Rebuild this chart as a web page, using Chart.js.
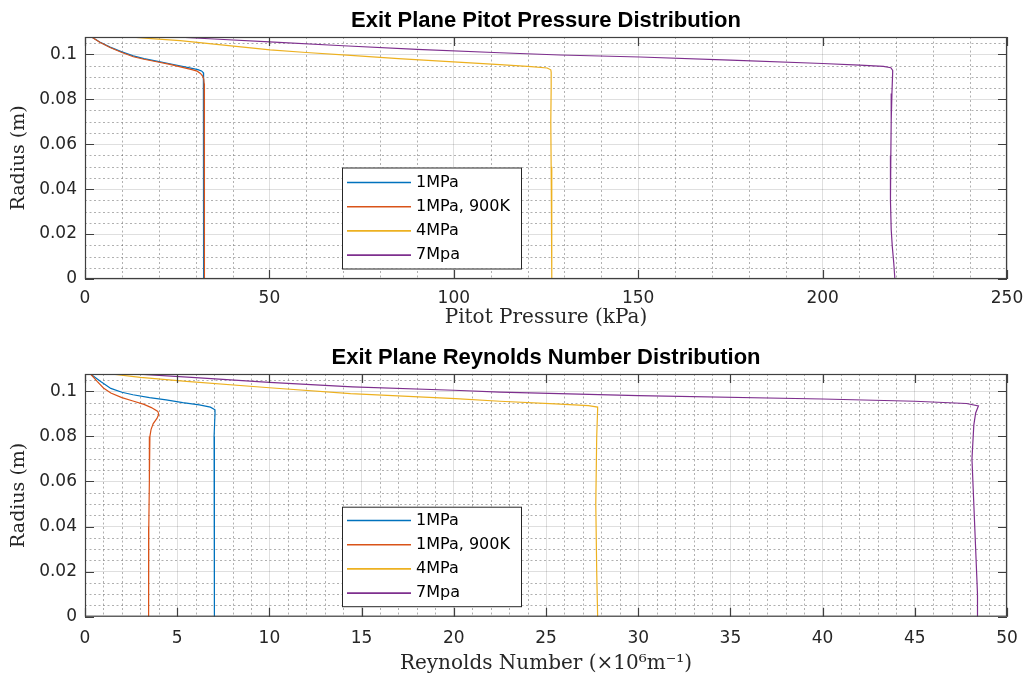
<!DOCTYPE html>
<html>
<head>
<meta charset="utf-8">
<title>Exit Plane Distributions</title>
<script src="https://cdn.jsdelivr.net/npm/chart.js@4.4.1/dist/chart.umd.min.js"></script>
<style>
  html, body { margin: 0; padding: 0; background: #fff; }
  body { width: 1025px; height: 679px; position: relative; overflow: hidden; }
  .panel { position: absolute; left: 0; width: 1025px; }
  #top { top: 0; height: 340px; }
  #bottom { top: 340px; height: 339px; }
</style>
</head>
<body>
<div class="panel" id="top"><canvas id="pitotChart"></canvas></div>
<div class="panel" id="bottom"><canvas id="reynoldsChart"></canvas></div>
<script>
// series names, same for both panels
const seriesLabels = ['1MPa', '1MPa, 900K', '4MPa', '7Mpa'];

// tick values
const radiusTicks = [0, 0.02, 0.04, 0.06, 0.08, 0.1];
const pitotTicks = [0, 50, 100, 150, 200, 250];
const reynoldsTicks = [0, 5, 10, 15, 20, 25, 30, 35, 40, 45, 50];

// top panel: [pitot pressure kPa, radius m]
const pitot1MPa = [[1.8,0.1077],[4.0,0.1055],[6.8,0.1032],[10.0,0.1011],[13.1,0.0993],[16.0,0.0981],[19.4,0.0970],[23.0,0.0958],[26.7,0.0945],[29.0,0.0937],[30.6,0.0932],[31.6,0.0926],[32.1,0.0918],[32.2,0.0905],[32.2,0.088],[32.1,0.080],[32.1,0.060],[32.1,0.040],[32.2,0.020],[32.2,0]];
const pitot1MPa900K = [[1.8,0.1077],[4.0,0.1054],[6.8,0.1030],[10.0,0.1008],[13.1,0.0989],[16.0,0.0978],[19.4,0.0967],[23.0,0.0955],[26.7,0.0941],[29.0,0.0932],[30.4,0.0925],[31.3,0.0915],[31.9,0.0903],[32.2,0.0890],[32.3,0.087],[32.4,0.080],[32.5,0.065],[32.4,0.050],[32.3,0.030],[32.3,0.010],[32.4,0]];
const pitot4MPa = [[12.2,0.1077],[18,0.1070],[25.8,0.1061],[35,0.1045],[50.2,0.1020],[60,0.1008],[71,0.0996],[85,0.0981],[99.9,0.0966],[112.5,0.0954],[121,0.0945],[125.3,0.0939],[126.3,0.0931],[126.4,0.092],[126.4,0.085],[126.3,0.070],[126.4,0.050],[126.5,0.030],[126.6,0.010],[126.6,0]];
const pitot7MPa = [[24.5,0.1077],[35,0.1068],[50,0.1055],[70,0.1038],[90,0.1022],[112.5,0.1007],[128.8,0.0997],[150.5,0.0988],[175,0.0974],[200,0.0959],[210,0.0952],[216.5,0.0946],[218.5,0.0940],[219,0.0928],[219,0.092],[218.8,0.0825],[218.6,0.070],[218.5,0.055],[218.4,0.035],[218.6,0.022],[218.9,0.0144],[219.3,0.007],[219.6,0]];

// bottom panel: [Reynolds number 1e6/m, radius m]
const re1MPa = [[0.3,0.1077],[0.85,0.1044],[1.4,0.1013],[2.0,0.0996],[2.6,0.0985],[3.5,0.0972],[4.4,0.0962],[5.3,0.0950],[6.2,0.0940],[6.8,0.0930],[7.05,0.0918],[7.05,0.090],[7.0,0.080],[7.0,0.060],[7.02,0.040],[7.02,0.020],[7.03,0]];
const re1MPa900K = [[0.3,0.1077],[0.66,0.1044],[1.0,0.1015],[1.4,0.0993],[2.0,0.0972],[2.6,0.0957],[3.2,0.0942],[3.6,0.0928],[3.95,0.0911],[4.0,0.0898],[3.9,0.0880],[3.7,0.0857],[3.58,0.0830],[3.52,0.080],[3.5,0.070],[3.48,0.060],[3.46,0.040],[3.45,0.020],[3.45,0]];
const re4MPa = [[1.4,0.1077],[3,0.1062],[5.5,0.1044],[10,0.1016],[14.4,0.0990],[20.1,0.0968],[22.5,0.0956],[25.5,0.0944],[27.3,0.0937],[27.8,0.0930],[27.8,0.092],[27.75,0.080],[27.7,0.050],[27.75,0.020],[27.8,0]];
const re7MPa = [[2.7,0.1077],[6,0.1061],[10,0.1040],[14.5,0.1020],[20,0.1005],[22.5,0.0997],[30,0.0981],[40,0.0966],[45,0.0956],[47.8,0.0946],[48.45,0.0935],[48.3,0.0904],[48.2,0.085],[48.1,0.070],[48.2,0.050],[48.3,0.030],[48.4,0.010],[48.4,0]];

// matlab default line colours
const lineColors = ['#0072BD', '#D95319', '#EDB120', '#7E2F8E'];
const axisInk = '#262626';
const tickFont = { family: 'DejaVu Sans', size: 17 };

function minorValues(scale, step) {
    const majors = scale.ticks.map(t => t.value);
    const out = [];
    for (let i = 1; scale.min + i * step < scale.max - 1e-9; i++) {
        const v = scale.min + i * step;
        if (!majors.some(m => Math.abs(m - v) < step * 0.01)) out.push(v);
    }
    return out;
}

// matlab-like box: dotted minor grid, inward ticks on all sides, boxed legend
const matlabAxes = {
    id: 'matlabAxes',
    beforeDatasetsDraw(chart, args, opts) {
        const { ctx, chartArea: area, scales: { x, y } } = chart;
        ctx.save();
        ctx.strokeStyle = 'rgba(80, 80, 80, 0.45)';
        ctx.lineWidth = 1;
        ctx.setLineDash([2, 2.5]);
        ctx.beginPath();
        minorValues(x, opts.xMinor).forEach(v => {
            const px = Math.round(x.getPixelForValue(v)) + 0.5;
            ctx.moveTo(px, area.top);
            ctx.lineTo(px, area.bottom);
        });
        minorValues(y, opts.yMinor).forEach(v => {
            const py = Math.round(y.getPixelForValue(v)) + 0.5;
            ctx.moveTo(area.left, py);
            ctx.lineTo(area.right, py);
        });
        ctx.stroke();
        ctx.restore();
    },
    afterDatasetsDraw(chart, args, opts) {
        const { ctx, chartArea: area, scales: { x, y } } = chart;
        const tl = 9;
        ctx.save();
        ctx.strokeStyle = '#404040';
        ctx.lineWidth = 1.2;
        ctx.beginPath();
        x.ticks.forEach(t => {
            const px = Math.round(x.getPixelForValue(t.value)) + 0.5;
            ctx.moveTo(px, area.bottom); ctx.lineTo(px, area.bottom - tl);
            ctx.moveTo(px, area.top); ctx.lineTo(px, area.top + tl);
        });
        y.ticks.forEach(t => {
            const py = Math.round(y.getPixelForValue(t.value)) + 0.5;
            ctx.moveTo(area.left, py); ctx.lineTo(area.left + tl, py);
            ctx.moveTo(area.right, py); ctx.lineTo(area.right - tl, py);
        });
        ctx.stroke();
        ctx.strokeRect(area.left + 0.5, area.top + 0.5, area.right - area.left - 1, area.bottom - area.top - 1);

        // legend box
        const lg = opts.legend;
        const bx = area.left + lg.left;
        const by = area.bottom - lg.bottom - lg.height;
        ctx.fillStyle = '#fff';
        ctx.fillRect(bx, by, lg.width, lg.height);
        ctx.strokeStyle = axisInk;
        ctx.lineWidth = 1;
        ctx.strokeRect(bx + 0.5, by + 0.5, lg.width, lg.height);
        ctx.font = '16px "DejaVu Sans"';
        ctx.textBaseline = 'middle';
        chart.data.datasets.forEach((ds, i) => {
            const ly = by + lg.first + i * lg.spacing;
            ctx.strokeStyle = ds.borderColor;
            ctx.lineWidth = 1.6;
            ctx.beginPath();
            ctx.moveTo(bx + 5, ly);
            ctx.lineTo(bx + 69, ly);
            ctx.stroke();
            ctx.fillStyle = '#000';
            ctx.fillText(ds.label, bx + 74, ly);
        });
        ctx.restore();
    }
};

function series(points, i) {
    return {
        label: seriesLabels[i],
        data: points.map(p => ({ x: p[0], y: p[1] })),
        borderColor: lineColors[i],
        backgroundColor: lineColors[i],
        borderWidth: 1.2,
        pointRadius: 0,
        showLine: true,
        fill: false,
        tension: 0,
        order: 3 - i
    };
}

function makeChart(canvasId, datasets, cfg) {
    return new Chart(document.getElementById(canvasId), {
        type: 'scatter',
        data: { datasets },
        options: {
            responsive: true,
            maintainAspectRatio: false,
            animation: false,
            events: [],
            layout: { padding: { left: 0, right: 18, top: 0, bottom: 0 } },
            plugins: {
                legend: { display: false },
                tooltip: { enabled: false },
                title: {
                    display: true,
                    text: cfg.title,
                    fullSize: false,
                    color: '#000',
                    font: { family: 'Liberation Sans', size: 22, weight: 'bold' },
                    padding: cfg.titlePad
                },
                matlabAxes: {
                    xMinor: cfg.xMinor,
                    yMinor: 0.005,
                    legend: { left: 257, bottom: 10.5, width: 179, height: cfg.legendHeight, first: cfg.legendFirst, spacing: 24.2 }
                }
            },
            scales: {
                x: {
                    type: 'linear',
                    min: 0,
                    max: cfg.xTicks[cfg.xTicks.length - 1],
                    afterBuildTicks: s => { s.ticks = cfg.xTicks.map(v => ({ value: v })); },
                    afterFit: s => { s.height = cfg.xHeight; s.paddingLeft = 0; s.paddingRight = 0; },
                    grid: { color: 'rgba(38, 38, 38, 0.15)', lineWidth: 1, drawTicks: false },
                    border: { display: false },
                    ticks: { padding: cfg.xTickPad, font: tickFont, color: axisInk, maxRotation: 0 },
                    title: {
                        display: true,
                        text: cfg.xTitle,
                        color: axisInk,
                        font: { family: 'DejaVu Serif', size: 20 },
                        padding: { top: 0, bottom: cfg.xTitlePad }
                    }
                },
                y: {
                    type: 'linear',
                    min: 0,
                    max: 0.1077,
                    afterBuildTicks: s => { s.ticks = radiusTicks.map(v => ({ value: v })); },
                    afterFit: s => { s.width = 85; s.paddingTop = 0; s.paddingBottom = 0; },
                    grid: { color: 'rgba(38, 38, 38, 0.15)', lineWidth: 1, drawTicks: false },
                    border: { display: false },
                    ticks: { padding: 8, font: tickFont, color: axisInk, callback: v => String(+v.toFixed(3)) },
                    title: {
                        display: true,
                        text: 'Radius (m)',
                        color: axisInk,
                        font: { family: 'DejaVu Serif', size: 19 },
                        padding: { top: 8, bottom: 0 }
                    }
                }
            }
        },
        plugins: [matlabAxes]
    });
}

makeChart('pitotChart',
    [series(pitot1MPa, 0), series(pitot1MPa900K, 1), series(pitot4MPa, 2), series(pitot7MPa, 3)],
    {
        title: 'Exit Plane Pitot Pressure Distribution',
        titlePad: { top: 7.5, bottom: 3.1 },
        xTicks: pitotTicks,
        xMinor: 10,
        xHeight: 61,
        xTickPad: 9.5,
        xTitle: 'Pitot Pressure (kPa)',
        xTitlePad: 10,
        legendHeight: 101,
        legendFirst: 15
    });

makeChart('reynoldsChart',
    [series(re1MPa, 0), series(re1MPa900K, 1), series(re4MPa, 2), series(re7MPa, 3)],
    {
        title: 'Exit Plane Reynolds Number Distribution',
        titlePad: { top: 4.8, bottom: 2.8 },
        xTicks: reynoldsTicks,
        xMinor: 1,
        xHeight: 62.3,
        xTickPad: 12,
        xTitle: 'Reynolds Number (×10⁶m⁻¹)',
        xTitlePad: 3,
        legendHeight: 99.5,
        legendFirst: 13.8
    });
</script>
</body>
</html>
